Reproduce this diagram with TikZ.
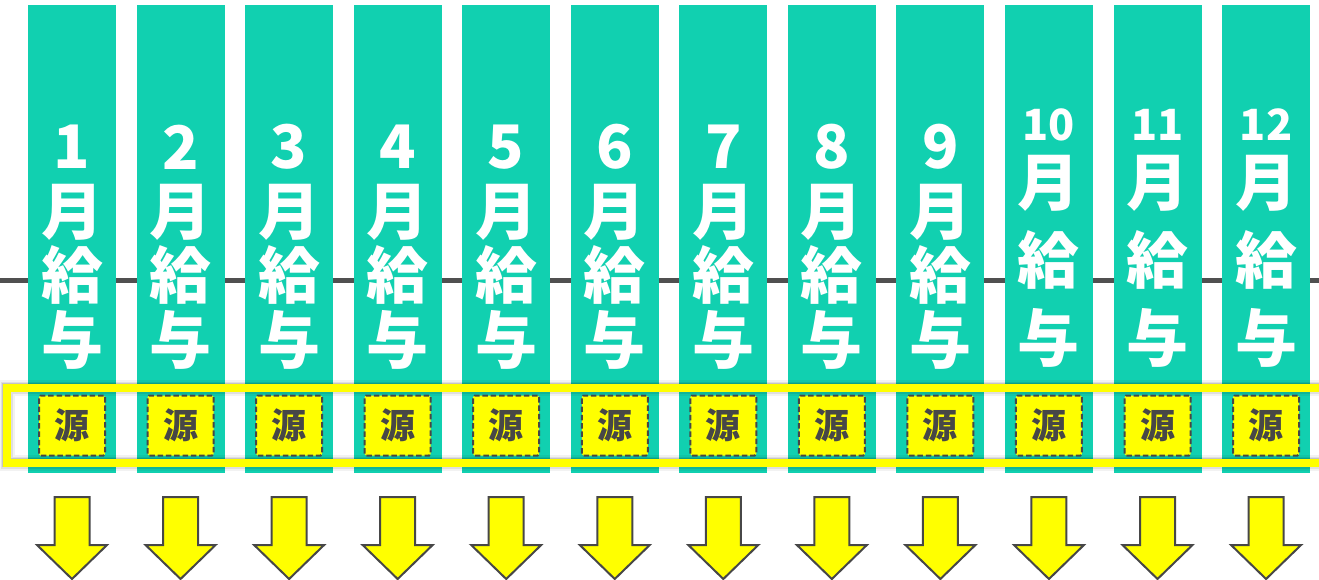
\documentclass[tikz,border=0pt]{standalone}
\usepackage{fontspec}
\newfontfamily\jp{Noto Sans CJK JP}
\definecolor{teal0}{HTML}{11D0B0}
\definecolor{yellow0}{HTML}{FFFF00}
\definecolor{dgray}{HTML}{474747}
\definecolor{hgray}{HTML}{505050}
\begin{document}
\begin{tikzpicture}[x=1pt,y=-1pt,
  col/.style={fill=teal0, minimum width=88pt, minimum height=468pt, inner sep=0pt, outer sep=0pt, anchor=north},
  big/.style={font=\jp\bfseries\fontsize{62}{62}\selectfont, text=white, inner sep=0pt},
  num/.style={font=\jp\bfseries\fontsize{60}{60}\selectfont, text=white, inner sep=0pt},
  numtwo/.style={font=\jp\bfseries\fontsize{43}{43}\selectfont, text=white, inner sep=0pt},
  gen/.style={draw=dgray, line width=2pt, dash pattern=on 5.5pt off 2.8pt, fill=yellow0,
    minimum width=66pt, minimum height=60pt, rounded corners=1.5pt,
    font=\jp\bfseries\fontsize{35}{35}\selectfont, text=dgray, inner sep=0pt},
  hline/.style={draw=hgray, line width=5pt},
  band/.style={draw=yellow0, line width=8pt},
  bandshadow/.style={draw=black, line width=#1},
  arr/.style={draw=dgray, line width=2pt, fill=yellow0, line join=miter}
]
\useasboundingbox (0,0) rectangle (1319,580);
\clip (0,0) rectangle (1319,580);
\coordinate (L) at (0,280);
\coordinate (R) at (1319,280);
\draw[hline] (L) -- (R);
\foreach \i in {1,...,12}{
  \pgfmathsetmacro\x{72+108.55*(\i-1)}
  \node[col] (c\i) at (\x,5) {};
  \ifnum\i<10
    \node[num] (n\i) at (\x,147) {\i};
    \node[big] (m\i) at (\x,212) {月};
    \node[big] (k\i) at (\x,275) {給};
    \node[big] (y\i) at (\x,340) {与};
  \else
    \node[numtwo] (n\i) at (\x,125) {\i};
    \node[big] (m\i) at (\x,183) {月};
    \node[big] (k\i) at (\x,260) {給};
    \node[big] (y\i) at (\x,338) {与};
  \fi
}
% shadow of the band
\coordinate (B1) at (6.5,387.5);
\coordinate (B2) at (1340,462.5);
\begin{scope}[shift={(2,5)}]
  \draw[bandshadow=16pt, opacity=0.05] (B1) rectangle (B2);
  \draw[bandshadow=12pt, opacity=0.08] (B1) rectangle (B2);
  \draw[bandshadow=9pt, opacity=0.12] (B1) rectangle (B2);
\end{scope}
\draw[band] (B1) rectangle (B2);
\foreach \i in {1,...,12}{
  \pgfmathsetmacro\x{72+108.55*(\i-1)}
  \node[gen] (g\i) at (\x,425.5) {源};
  \draw[arr] ([shift={(-17.5,24)}]c\i.south) -- ([shift={(17.5,24)}]c\i.south)
    -- ([shift={(17.5,72)}]c\i.south) -- ([shift={(35,72)}]c\i.south)
    -- ([shift={(0,106)}]c\i.south) -- ([shift={(-35,72)}]c\i.south)
    -- ([shift={(-17.5,72)}]c\i.south) -- cycle;
}
\end{tikzpicture}
\end{document}
